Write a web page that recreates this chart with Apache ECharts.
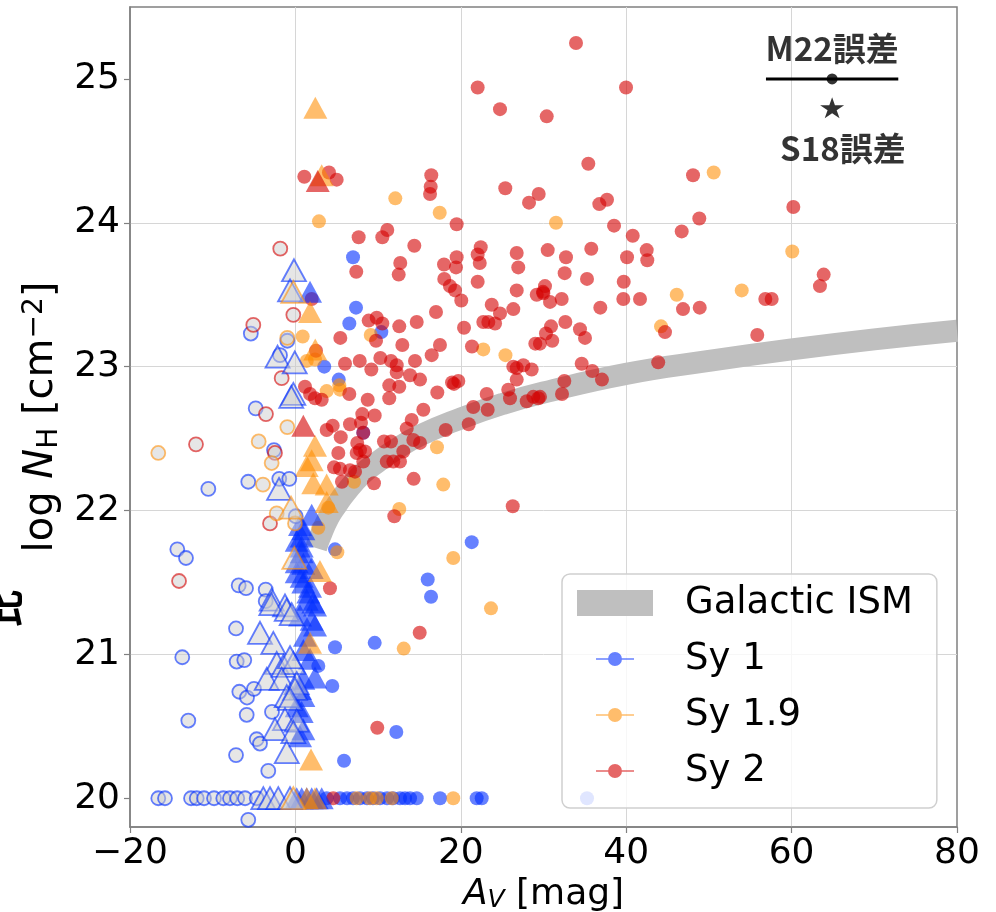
<!DOCTYPE html>
<html><head><meta charset="utf-8">
<script src="https://cdn.jsdelivr.net/npm/echarts@6/dist/echarts.min.js"></script>
<style>html,body{margin:0;padding:0;background:#fff}#c{width:996px;height:912px}</style>
</head><body><div id="c"></div><script>
// ---------- axis ticks ----------
const xTicks = [-20, 0, 20, 40, 60, 80];
const yTicks = [20, 21, 22, 23, 24, 25];

// ---------- Galactic ISM relation ----------
const ismAv = [2.5, 3, 4, 5, 6, 8, 10, 12, 15, 20, 25, 30, 40, 50, 60, 70, 80];
const ismNH = [21.74, 21.82, 21.95, 22.04, 22.12, 22.25, 22.34, 22.42, 22.52, 22.64, 22.74, 22.82, 22.95, 23.04, 23.12, 23.19, 23.25];

// ---------- Sy 2 filled circles [A_V, logNH] ----------
const sy2Circles = [
[22.04,24.94],[24.74,24.79],[30.39,24.74],[33.93,25.25],[39.98,24.94],
[1.08,24.32],[4.06,24.35],[4.99,24.30],[16.43,24.33],[16.36,24.25],[16.28,24.20],
[25.38,24.24],[29.42,24.20],[28.25,24.14],[35.42,24.41],[48.08,24.33],[36.75,24.13],[37.68,24.16],[38.53,23.98],[60.21,24.11],
[19.50,23.99],[7.65,23.90],[11.11,23.95],[10.51,23.90],[14.38,23.84],
[7.36,23.66],[12.68,23.72],[12.49,23.64],[17.97,23.71],[19.50,23.76],[19.42,23.69],
[22.41,23.83],[22.04,23.78],[22.29,23.72],[26.76,23.79],[26.95,23.69],[30.51,23.81],
[22.04,23.59],[18.00,23.61],[18.69,23.56],[19.30,23.53],[26.76,23.53],[29.18,23.50],[29.94,23.52],
[40.79,23.91],[48.84,24.03],[46.71,23.94],[32.72,23.76],[35.78,23.82],[40.10,23.76],
[42.48,23.81],[42.55,23.74],[63.88,23.64],[63.43,23.56],
[32.56,23.65],[35.26,23.61],[39.70,23.59],[56.82,23.47],[57.59,23.47],
[30.18,23.56],[29.98,23.51],[32.20,23.47],[39.65,23.47],[41.67,23.47],
[30.79,23.45],[36.87,23.41],[46.87,23.40],[48.89,23.41],[44.69,23.24],[55.85,23.22],
[30.91,23.28],[30.30,23.23],[29.57,23.16],[31.06,23.18],[32.64,23.31],[34.41,23.26],[35.02,23.20],
[34.62,23.02],[35.90,22.97],[37.07,22.91],[32.52,22.90],[32.24,22.81],[43.87,23.03],[29.58,22.79],
[8.86,23.32],[9.83,23.34],[10.51,23.30],[12.56,23.28],[14.67,23.31],[17.00,23.38],[20.39,23.27],
[20.06,23.46],[23.74,23.43],[24.74,23.37],[26.35,23.40],[22.72,23.31],[23.33,23.31],[24.14,23.30],
[9.75,23.18],[5.43,23.20],[12.93,23.15],[17.48,23.15],[16.48,23.08],[21.35,23.14],[29.01,23.16],
[6.00,23.02],[7.78,23.04],[10.27,23.06],[11.56,23.04],[12.25,23.01],[12.25,22.96],[14.46,23.04],
[9.18,22.98],[13.86,22.94],[15.07,22.91],[26.35,23.00],[26.76,22.99],[27.56,23.01],[28.57,22.98],
[26.76,22.91],[25.74,22.84],[25.95,22.78],[27.97,22.76],[28.77,22.79],[29.37,22.78],
[18.94,22.89],[19.70,22.90],[19.18,22.88],[17.16,22.82],[23.13,22.81],[21.51,22.72],[23.25,22.70],
[15.47,22.70],[11.35,22.87],[12.56,22.86],[11.35,22.78],[8.74,22.77],[6.52,22.81],
[1.16,22.86],[2.37,22.78],[3.18,22.77],[1.77,22.81],[2.49,23.11],[1.97,23.47],
[14.06,22.63],[13.46,22.57],[14.26,22.49],[15.07,22.47],[18.17,22.56],[20.96,22.60],
[9.59,22.66],[8.09,22.67],[7.93,22.61],[6.60,22.60],[4.51,22.59],[3.78,22.56],[5.48,22.51],[8.21,22.54],
[7.48,22.47],[7.81,22.42],[8.42,22.41],[7.41,22.40],[10.71,22.48],[11.56,22.48],[13.05,22.41],
[11.04,22.34],[11.84,22.34],[12.65,22.34],[8.21,22.34],[5.19,22.40],
[4.67,22.30],[5.39,22.29],[6.60,22.28],[7.21,22.27],[5.63,22.20],[9.50,22.19],[14.30,22.22],
[26.28,22.03],[11.96,21.96],[15.03,21.15],[9.90,20.49],[4.18,21.46],[4.58,20.00]
];

// ---------- Sy 1.9 filled circles ----------
const sy19Circles = [
[12.08,24.17],[17.45,24.07],[2.85,24.01],[50.58,24.35],[31.51,24.00],[60.08,23.80],
[46.11,23.50],[53.97,23.53],[44.21,23.28],
[9.11,23.22],[22.72,23.12],[25.40,23.08],[0.88,23.21],[1.37,23.04],[2.37,23.05],
[3.78,22.83],[5.31,22.87],[5.39,22.84],[7.09,22.20],[17.12,22.44],[17.88,22.18],[12.56,22.01],
[3.98,22.02],[2.77,21.88],[5.07,21.71],[19.09,21.67],[23.65,21.32],[13.10,21.04],
[7.41,20.00],[9.02,20.00],[9.83,20.00],[11.65,20.00],[19.09,20.00]
];

// ---------- Sy 1 filled circles ----------
const sy1Circles = [
[6.97,23.76],[7.33,23.41],[6.52,23.30],[10.39,23.24],[3.49,23.00],[5.24,22.91],[8.21,22.54],
[4.79,21.73],[21.32,21.78],[16.00,21.52],[16.40,21.40],[9.59,21.08],[4.79,21.05],[2.77,20.92],
[4.46,20.78],[12.20,20.46],[5.88,20.26],
[3.78,20],[5.39,20],[6.25,20],[6.97,20],[7.81,20],[8.66,20],[9.38,20],[10.23,20],[11.08,20],
[11.80,20],[12.65,20],[13.26,20],[13.86,20],[14.67,20],[17.49,20],[21.92,20],[22.53,20],[35.26,20]
];

// ---------- filled triangles ----------
const sy1Tri = [
[1.77,23.52],[1.97,21.97],[0.56,21.90],[0.96,21.87],[0.76,21.82],[0.16,21.79],[0.76,21.75],[0.76,21.71],
[0.16,21.64],[0.96,21.63],[1.97,21.60],[0.16,21.57],[0.76,21.54],[0.96,21.50],[1.77,21.47],[1.56,21.43],
[1.37,21.38],[2.16,21.36],[2.37,21.34],[0.56,21.27],[1.97,21.24],[2.37,21.20],[1.16,21.13],[0.96,21.03],
[1.77,20.97],[2.37,20.84],[0.96,20.83],[0.56,20.76],[0.96,20.71],[0.16,20.64],[0.76,20.60],[0.96,20.48],[0.56,20.43],
[0.16,20],[0.76,20],[1.37,20],[1.97,20],[2.57,20],[3.18,20]
];
const sy19Tri = [
[2.41,24.80],[3.18,24.33],[1.77,23.38],[2.40,23.12],[2.37,22.45],[1.97,22.35],[1.37,22.31],
[2.16,22.19],[3.78,22.18],[3.78,22.06],[2.97,21.58],[1.77,21.08],[1.89,20.27],[1.37,20],[2.37,20]
];
const sy2Tri = [[2.70,24.29],[0.96,22.59]];

// ---------- open (limit) circles ----------
const sy1Open = [
[-5.39,23.23],[-0.98,23.18],[-1.86,23.08],[-4.80,22.71],[-2.59,22.42],[-10.53,22.15],[-5.70,22.20],
[-1.95,22.22],[-0.74,22.22],[0.04,21.96],[-14.28,21.73],[-13.23,21.67],[-6.86,21.48],[-5.97,21.46],
[-3.59,21.45],[-3.59,21.37],[-7.18,21.18],[-13.68,20.98],[-7.10,20.95],[-6.18,20.96],[-6.78,20.74],
[-5.85,20.70],[-5.01,20.76],[-5.89,20.58],[-12.95,20.54],[-2.83,20.60],[-4.68,20.41],[-4.28,20.38],
[-7.18,20.30],[-3.28,20.19],[-5.70,19.85],
[-16.58,20],[-15.77,20],[-12.62,20],[-11.93,20],[-11.05,20],[-9.84,20],[-8.72,20],[-7.91,20],[-7.03,20],[-6.09,20],[-4.68,20]
];
const sy2Open = [
[-1.83,23.82],[-0.25,23.36],[-5.09,23.29],[-1.66,22.92],[-3.56,22.67],[-12.02,22.46],[-2.47,22.40],[-3.07,21.91],[-14.07,21.51]
];
const sy19Open = [
[-0.98,23.20],[-0.98,22.58],[-16.58,22.40],[-4.44,22.48],[-2.87,22.33],[-3.92,22.18],[-2.26,21.98],[-0.05,21.91]
];

// ---------- open triangles ----------
const sy1OpenTri = [
[-0.17,23.67],[-0.65,23.53],[-2.16,23.07],[-0.08,23.03],[-0.25,22.81],[-0.50,22.79],[-1.98,22.15],
[-2.87,21.38],[-1.26,21.34],[-2.91,21.35],[-4.28,21.15],[-2.67,21.08],[-1.05,21.31],[-0.45,21.28],
[-2.26,20.94],[-1.46,20.92],[-0.25,20.94],[-0.65,20.98],[-3.47,20.83],[-1.66,20.83],[0.16,20.80],
[-0.05,20.76],[-1.05,20.71],[-0.65,20.69],[-1.26,20.55],[0.16,20.54],[-2.47,20.48],[-0.25,20.46],[-1.05,20.32],
[-3.88,20],[-3.07,20],[-2.07,20],[-0.65,20]
];
const sy19OpenTri = [[-0.53,22.02],[-0.25,23.52],[-0.13,21.67],[-0.25,20.00]];

// ---------- typical error annotation ----------
const errM22 = [[56.9, 25.0], [72.9, 25.0]];
const errM22Point = [[64.9, 25.0]];
const errS18Point = [[64.9, 24.80]];
const errLabels = [[64.9, 25.215, 'M22誤差'], [66.2, 24.52, 'S18誤差']];

// ---------- styling ----------
const FONT = 'DejaVu Sans';
const C_BLUE = 'rgba(0,45,255,0.75)';
const C_ORANGE = 'rgba(255,140,0,0.72)';
const C_RED = 'rgba(212,0,0,0.75)';
const OPEN_FILL = 'rgba(205,205,205,0.62)';
const TRI = 'triangle';
const STAR = 'path://M50,0 L61.17,34.63 L97.55,34.55 L68.07,55.87 L79.39,90.45 L50,69 L20.61,90.45 L31.93,55.87 L2.45,34.55 L38.83,34.63 Z';
const LEG_ICON = 'path://M0,0 M76,26 M19,12.3 L57,12.3 L57,13.7 L19,13.7 Z M45,13 A7,7 0 1 1 31,13 A7,7 0 1 1 45,13 Z';

function filled(name, data, symbol, size, color, z) {
  return {type:'scatter', name, data, symbol, symbolSize:size, z, silent:true,
    itemStyle:{color, borderWidth:0}, emphasis:{disabled:true}};
}
function open(name, data, symbol, size, edge, z) {
  return {type:'scatter', name, data, symbol, symbolSize:size, z, silent:true,
    itemStyle:{color:OPEN_FILL, borderColor:edge, borderWidth:1.8}, emphasis:{disabled:true}};
}

const chart = echarts.init(document.getElementById('c'), null, {renderer:'canvas'});
chart.setOption({
  animation:false,
  backgroundColor:'#fff',
  grid:{left:130, right:39, top:7, bottom:85, show:true, borderColor:'#808080', borderWidth:1.5,
        containLabel:false, outerBoundsMode:'none'},
  xAxis:{type:'value', min:-20, max:80, interval:20,
    axisLine:{show:true, onZero:false, lineStyle:{color:'#808080', width:1.5}},
    axisTick:{show:true, length:6, lineStyle:{color:'#808080', width:1.2}},
    axisLabel:{fontFamily:FONT, fontSize:36, color:'#000', margin:9,
      formatter:v => String(v).replace('-', '\u2212')},
    splitLine:{show:true, showMinLine:false, showMaxLine:false, lineStyle:{color:'#d6d6d6', width:1}},
    name:'{i|A}{s|V}{t| [mag]}', nameLocation:'middle', nameGap:31,
    nameTextStyle:{fontFamily:FONT, fontSize:36, color:'#000',
      rich:{t:{fontFamily:FONT, fontSize:36, color:'#000'},
            i:{fontFamily:FONT, fontSize:36, fontStyle:'italic', color:'#000'},
            s:{fontFamily:FONT, fontSize:25, fontStyle:'italic', color:'#000', verticalAlign:'bottom', padding:[12,0,0,0]}}}
  },
  yAxis:{type:'value', min:19.8, max:25.5,
    axisLine:{show:true, onZero:false, lineStyle:{color:'#808080', width:1.5}},
    axisTick:{show:true, length:6, customValues:yTicks, lineStyle:{color:'#808080', width:1.2}},
    axisLabel:{fontFamily:FONT, fontSize:36, color:'#000', margin:10, customValues:yTicks},
    splitLine:{show:true, showMinLine:false, showMaxLine:false, lineStyle:{color:'#d6d6d6', width:1}},
    name:'{t|log }{i|N}{s|H}{t| [cm}{p|\u22122}{t|]}', nameLocation:'middle', nameGap:62, nameRotate:90,
    nameTextStyle:{fontFamily:FONT, fontSize:40, color:'#000',
      rich:{t:{fontFamily:FONT, fontSize:40, color:'#000'},
            i:{fontFamily:FONT, fontSize:40, fontStyle:'italic', color:'#000'},
            s:{fontFamily:FONT, fontSize:28, color:'#000', verticalAlign:'bottom', padding:[13,0,0,0]},
            p:{fontFamily:FONT, fontSize:28, color:'#000', verticalAlign:'top', padding:[0,0,15,0]}}}
  },
  legend:{orient:'vertical', left:562, top:574, selectedMode:false,
    padding:[8,24,16,15], itemGap:14, itemWidth:76, itemHeight:26,
    backgroundColor:'rgba(255,255,255,0.8)', borderColor:'#cfcfcf', borderWidth:1.5, borderRadius:8,
    textStyle:{fontFamily:FONT, fontSize:37, color:'#000', lineHeight:42, padding:[0,0,0,27]},
    data:[{name:'Galactic ISM', icon:'rect'},
          {name:'Sy 1', icon:LEG_ICON},
          {name:'Sy 1.9', icon:LEG_ICON},
          {name:'Sy 2', icon:LEG_ICON}]
  },
  graphic:[{type:'text', left:-14, top:590, rotation:Math.PI/2,
    style:{text:'比', font:'bold 37px "Noto Sans CJK JP"', fill:'#000'}}],
  series:[
    {type:'line', name:'Galactic ISM', data:ismAv.map((a,i)=>[a, ismNH[i]]), smooth:true,
     showSymbol:false, symbol:'none', z:1, silent:true,
     lineStyle:{color:'#bfbfbf', width:22, cap:'butt'}, itemStyle:{color:'#bfbfbf'}},
    filled('Sy 1', sy1Circles, 'circle', 14, C_BLUE, 2),
    filled('Sy 1.9', sy19Circles, 'circle', 14, C_ORANGE, 3),
    filled('Sy 2', sy2Circles, 'circle', 14, C_RED, 4),
    filled('Sy 1 lim', sy1Tri, TRI, [24,22], C_BLUE, 5),
    filled('Sy 1.9 lim', sy19Tri, TRI, [24,22], C_ORANGE, 6),
    filled('Sy 2 lim', sy2Tri, TRI, [24,22], C_RED, 7),
    open('Sy 1 up', sy1Open, 'circle', 14, C_BLUE, 8),
    open('Sy 2 up', sy2Open, 'circle', 14, C_RED, 8),
    open('Sy 1.9 up', sy19Open, 'circle', 14, C_ORANGE, 8),
    open('Sy 1 uptri', sy1OpenTri, TRI, [24,22], C_BLUE, 9),
    open('Sy 1.9 uptri', sy19OpenTri, TRI, [24,22], C_ORANGE, 9),
    {type:'line', name:'err M22', data:errM22, symbol:'none', z:20, silent:true,
     lineStyle:{color:'#000', width:3}},
    {type:'scatter', name:'err M22 pt', data:errM22Point, symbol:'circle', symbolSize:11, z:21, silent:true,
     itemStyle:{color:'#000'}},
    {type:'scatter', name:'err S18 pt', data:errS18Point, symbol:STAR, symbolSize:[24,21], z:21, silent:true,
     itemStyle:{color:'#000'}},
    {type:'scatter', name:'err labels', data:errLabels, symbolSize:1, z:22, silent:true,
     itemStyle:{color:'rgba(0,0,0,0)'},
     label:{show:true, position:'inside', formatter:p => p.data[2],
       fontFamily:'Noto Sans CJK JP', fontWeight:'bold', fontSize:33, color:'#000'}}
  ]
});
</script></body></html>
